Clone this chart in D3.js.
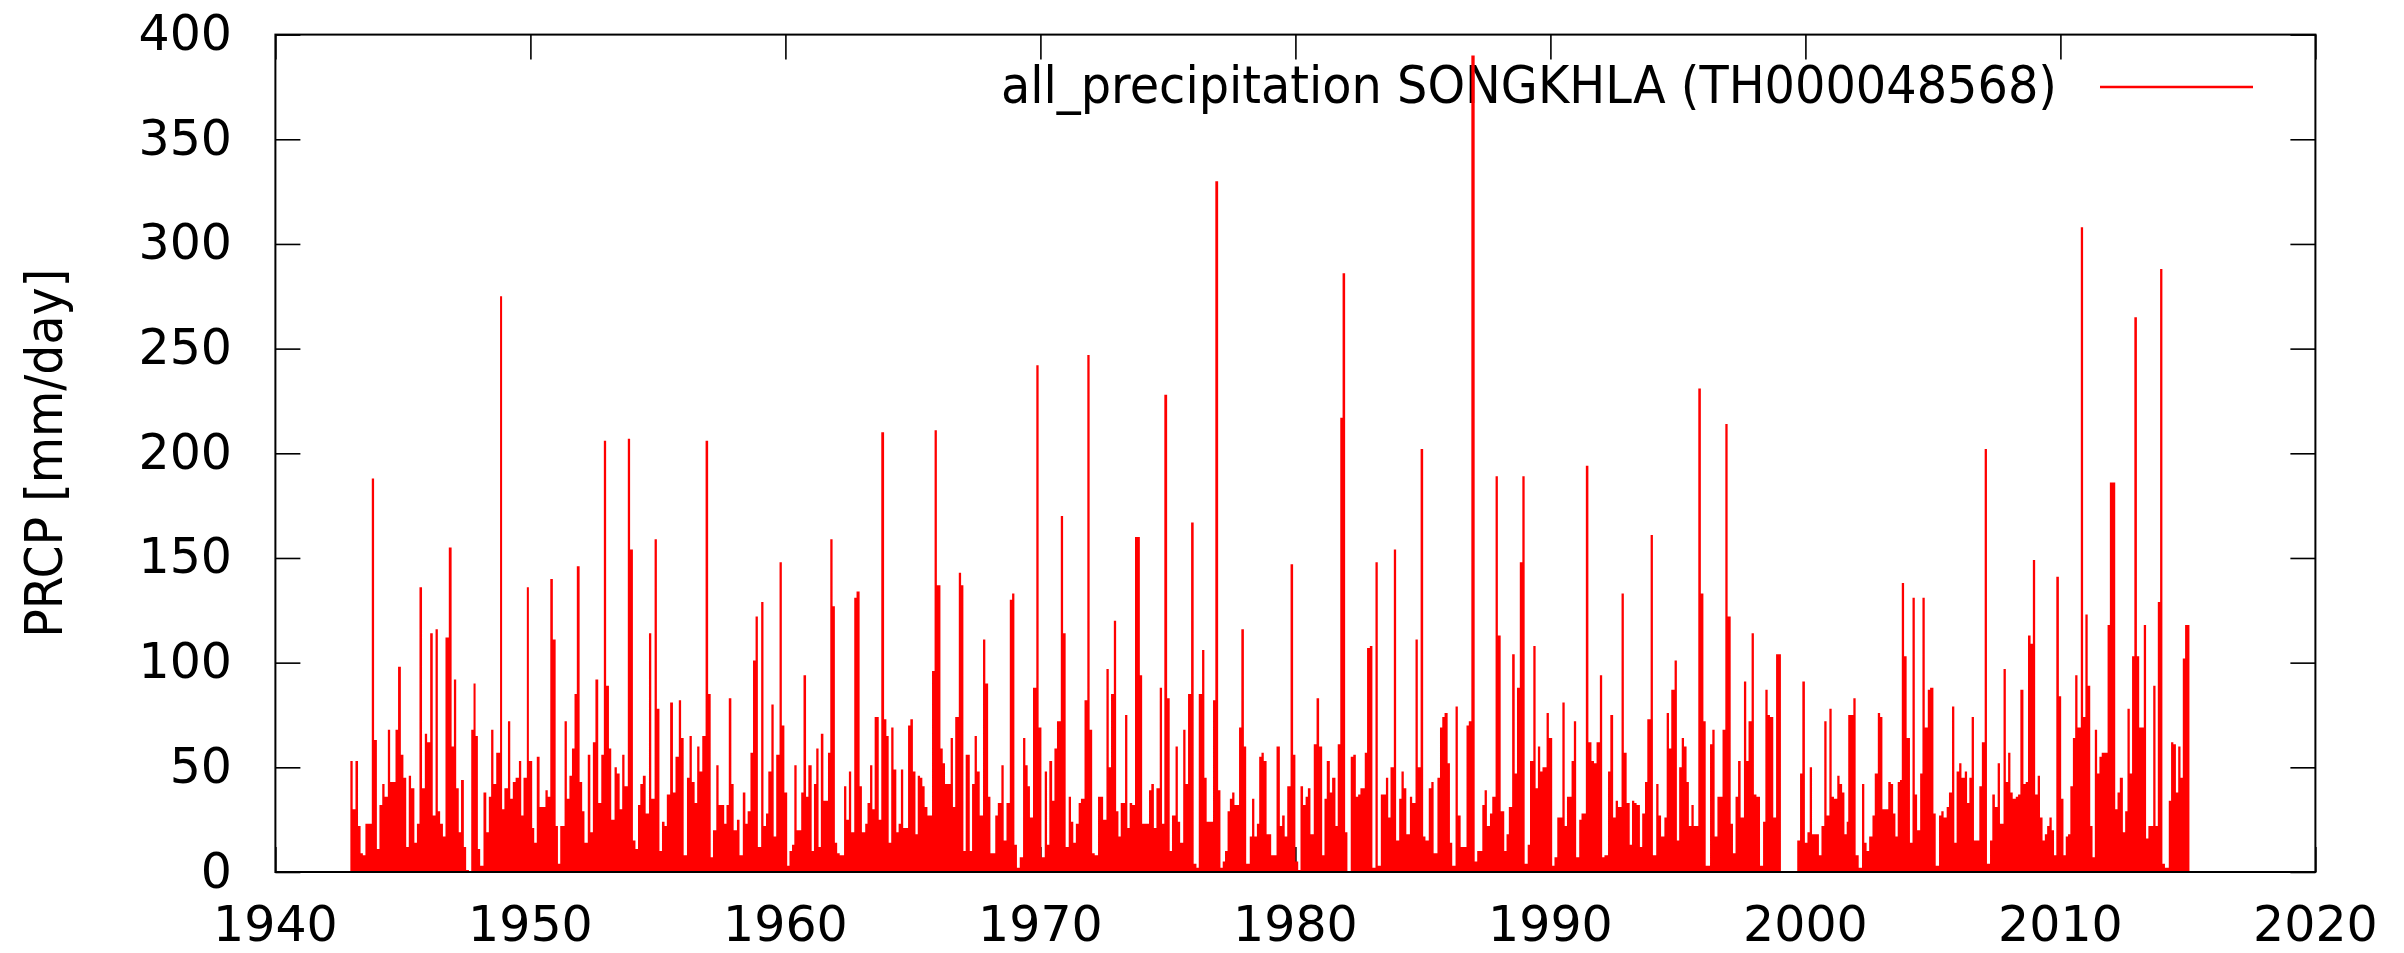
<!DOCTYPE html>
<html>
<head>
<meta charset="utf-8">
<script src="https://cdn.jsdelivr.net/npm/d3@7"></script>
<style>
  html, body { margin: 0; padding: 0; background: #fff; }
  svg { display: block; }
  text { font-family: "DejaVu Sans", sans-serif; fill: #000; }
</style>
</head>
<body>
<svg id="chart" width="2404" height="953"></svg>
<script>
// ---- data: [fractional year, daily precipitation mm/day] ----
const prcp1943to1955 = [[1942.94,53],[1943.03,30],[1943.14,53],[1943.24,22],[1943.34,9],[1943.43,8],[1943.53,23],[1943.78,188],[1943.87,63],[1943.98,11],[1944.08,32],[1944.19,42],[1944.28,36],[1944.41,68],[1944.50,43],[1944.71,68],[1944.81,98],[1944.92,56],[1945.02,45],[1945.13,12],[1945.23,46],[1945.32,40],[1945.45,14],[1945.55,23],[1945.65,136],[1945.75,40],[1945.86,66],[1945.95,62],[1946.07,114],[1946.17,27],[1946.28,116],[1946.37,29],[1946.46,23],[1946.57,17],[1946.67,112],[1946.80,155],[1946.91,60],[1947.00,92],[1947.09,40],[1947.19,19],[1947.28,44],[1947.39,12],[1947.48,1],[1947.59,0],[1947.68,68],[1947.77,90],[1947.85,65],[1947.94,11],[1948.03,3],[1948.16,38],[1948.27,19],[1948.37,36],[1948.46,68],[1948.55,42],[1948.66,57],[1948.81,275],[1948.89,30],[1948.98,40],[1949.12,72],[1949.21,35],[1949.31,43],[1949.42,45],[1949.55,53],[1949.64,27],[1949.73,45],[1949.86,136],[1949.94,53],[1950.07,21],[1950.15,14],[1950.25,55],[1950.36,31],[1950.59,39],[1950.68,36],[1950.78,140],[1950.88,111],[1950.99,22],[1951.08,4],[1951.17,22],[1951.34,72],[1951.43,35],[1951.53,46],[1951.63,59],[1951.73,85],[1951.82,146],[1951.93,43],[1952.03,29],[1952.12,14],[1952.25,56],[1952.35,19],[1952.45,62],[1952.55,92],[1952.66,33],[1952.78,56],[1952.88,206],[1952.97,89],[1953.08,59],[1953.17,25],[1953.30,50],[1953.39,47],[1953.50,30],[1953.60,56],[1953.69,41],[1953.82,207],[1953.91,154],[1954.02,15],[1954.12,11],[1954.22,32],[1954.31,42],[1954.41,46],[1954.52,28],[1954.65,114],[1954.74,35],[1954.87,159],[1954.96,78]];

const prcp1955to1967 = [[1955.06,10],[1955.16,24],[1955.26,22],[1955.35,37],[1955.48,81],[1955.59,38],[1955.69,55],[1955.82,82],[1955.91,64],[1956.01,8],[1956.14,45],[1956.24,65],[1956.33,43],[1956.44,33],[1956.54,60],[1956.63,48],[1956.74,65],[1956.87,206],[1956.97,85],[1957.07,7],[1957.16,20],[1957.29,51],[1957.38,32],[1957.60,23],[1957.69,32],[1957.78,83],[1957.88,42],[1957.97,20],[1958.10,25],[1958.20,8],[1958.33,38],[1958.43,23],[1958.52,29],[1958.63,57],[1958.73,101],[1958.83,122],[1958.92,12],[1959.05,129],[1959.14,22],[1959.24,28],[1959.33,48],[1959.45,80],[1959.54,17],[1959.64,56],[1959.77,148],[1959.86,70],[1959.96,38],[1960.07,3],[1960.16,10],[1960.26,13],[1960.35,51],[1960.44,20],[1960.62,38],[1960.71,94],[1960.81,36],[1960.90,51],[1961.03,10],[1961.12,42],[1961.21,59],[1961.30,12],[1961.39,66],[1961.49,34],[1961.67,57],[1961.76,159],[1961.85,127],[1961.94,14],[1962.03,9],[1962.13,8],[1962.30,41],[1962.39,25],[1962.49,48],[1962.58,19],[1962.70,131],[1962.79,134],[1962.91,41],[1963.00,19],[1963.13,23],[1963.22,33],[1963.32,51],[1963.41,30],[1963.50,74],[1963.66,25],[1963.76,210],[1963.87,73],[1963.96,65],[1964.05,14],[1964.15,69],[1964.24,49],[1964.35,19],[1964.44,23],[1964.53,49],[1964.62,21],[1964.81,70],[1964.90,73],[1965.00,48],[1965.10,18],[1965.19,46],[1965.28,45],[1965.37,41],[1965.46,31],[1965.57,27],[1965.75,96],[1965.85,211],[1965.94,137],[1966.08,59],[1966.17,52],[1966.26,42],[1966.48,64],[1966.57,31],[1966.66,74],[1966.80,143],[1966.89,137],[1966.98,10],[1967.07,56]];

const prcp1967to1979 = [[1967.23,10],[1967.32,42],[1967.42,65],[1967.51,48],[1967.62,27],[1967.75,111],[1967.84,90],[1967.95,36],[1968.04,9],[1968.23,27],[1968.33,33],[1968.47,51],[1968.56,15],[1968.67,33],[1968.80,130],[1968.89,133],[1968.98,13],[1969.08,2],[1969.19,7],[1969.32,64],[1969.41,51],[1969.50,41],[1969.59,26],[1969.71,88],[1969.84,242],[1969.93,69],[1970.04,7],[1970.17,48],[1970.26,13],[1970.35,53],[1970.46,34],[1970.55,59],[1970.65,72],[1970.80,170],[1970.89,114],[1970.99,12],[1971.11,36],[1971.20,24],[1971.29,14],[1971.39,23],[1971.50,33],[1971.59,35],[1971.73,82],[1971.84,247],[1971.93,68],[1972.03,9],[1972.13,8],[1972.26,36],[1972.46,25],[1972.59,97],[1972.68,50],[1972.77,85],[1972.88,120],[1972.97,29],[1973.06,17],[1973.15,33],[1973.32,75],[1973.41,21],[1973.50,33],[1973.60,32],[1973.71,160],[1973.80,160],[1973.90,94],[1973.99,23],[1974.26,39],[1974.35,42],[1974.45,21],[1974.55,40],[1974.68,88],[1974.77,23],[1974.86,228],[1974.97,83],[1975.07,10],[1975.16,27],[1975.30,60],[1975.39,24],[1975.48,14],[1975.60,68],[1975.69,42],[1975.79,85],[1975.91,167],[1976.01,4],[1976.12,2],[1976.21,85],[1976.34,106],[1976.43,45],[1976.52,24],[1976.77,82],[1976.86,330],[1976.97,39],[1977.06,2],[1977.15,5],[1977.24,10],[1977.34,29],[1977.43,35],[1977.52,38],[1977.61,32],[1977.79,69],[1977.88,116],[1977.98,60],[1978.07,4],[1978.21,17],[1978.30,35],[1978.39,17],[1978.49,23],[1978.58,55],[1978.67,57],[1978.76,53],[1978.87,18],[1979.05,8],[1979.26,60]];

const prcp1979to1991 = [[1979.39,22],[1979.48,27],[1979.58,17],[1979.68,41],[1979.81,147],[1979.91,56],[1980.00,5],[1980.11,1],[1980.20,41],[1980.30,32],[1980.40,36],[1980.49,40],[1980.59,18],[1980.72,61],[1980.83,83],[1980.93,60],[1981.05,8],[1981.14,35],[1981.23,53],[1981.35,38],[1981.44,45],[1981.57,22],[1981.66,61],[1981.76,217],[1981.85,286],[1981.95,19],[1982.04,0],[1982.17,55],[1982.27,56],[1982.37,36],[1982.46,37],[1982.55,40],[1982.72,57],[1982.81,107],[1982.92,108],[1983.02,2],[1983.14,148],[1983.23,3],[1983.35,37],[1983.55,45],[1983.64,26],[1983.73,50],[1983.86,154],[1983.95,15],[1984.07,35],[1984.16,48],[1984.25,40],[1984.35,18],[1984.49,36],[1984.58,33],[1984.71,111],[1984.80,50],[1984.91,202],[1985.01,17],[1985.10,15],[1985.23,40],[1985.33,43],[1985.42,9],[1985.57,45],[1985.67,69],[1985.76,74],[1985.85,76],[1985.97,52],[1986.06,14],[1986.15,3],[1986.28,79],[1986.37,27],[1986.48,12],[1986.71,70],[1986.80,72],[1986.90,390],[1987.03,5],[1987.13,10],[1987.33,32],[1987.42,39],[1987.51,22],[1987.63,28],[1987.72,36],[1987.85,189],[1987.94,113],[1988.05,29],[1988.19,10],[1988.28,18],[1988.37,31],[1988.50,104],[1988.60,47],[1988.69,88],[1988.80,148],[1988.90,189],[1988.99,4],[1989.11,13],[1989.20,53],[1989.33,108],[1989.42,40],[1989.51,60],[1989.60,48],[1989.69,50],[1989.85,76],[1989.94,64],[1990.07,3],[1990.16,7],[1990.27,26],[1990.47,81],[1990.56,22],[1990.65,36],[1990.83,53],[1990.92,72],[1991.01,7],[1991.13,25],[1991.22,28],[1991.39,194],[1991.49,62]];

const prcp1991to2003 = [[1991.61,53],[1991.71,52],[1991.81,62],[1991.94,94],[1992.03,7],[1992.12,8],[1992.26,48],[1992.35,75],[1992.46,26],[1992.56,34],[1992.65,31],[1992.79,133],[1992.88,57],[1992.99,33],[1993.11,13],[1993.20,34],[1993.29,33],[1993.38,32],[1993.51,12],[1993.60,28],[1993.71,43],[1993.80,73],[1993.93,161],[1994.02,8],[1994.15,42],[1994.24,27],[1994.34,17],[1994.47,26],[1994.56,76],[1994.65,59],[1994.74,87],[1994.87,101],[1994.96,15],[1995.05,50],[1995.15,64],[1995.24,60],[1995.34,43],[1995.43,22],[1995.53,32],[1995.62,22],[1995.80,231],[1995.90,133],[1996.00,72],[1996.09,3],[1996.26,61],[1996.35,68],[1996.44,17],[1996.55,36],[1996.75,68],[1996.86,214],[1996.95,122],[1997.07,23],[1997.16,9],[1997.26,36],[1997.36,53],[1997.46,26],[1997.59,91],[1997.68,53],[1997.77,72],[1997.89,114],[1997.98,37],[1998.08,36],[1998.22,3],[1998.34,24],[1998.43,87],[1998.52,75],[1998.61,74],[1998.74,26],[1998.85,104],[1998.95,104],[1999.04,0],[1999.68,15],[1999.79,47],[1999.88,91],[1999.98,14],[2000.08,19],[2000.17,50],[2000.26,18],[2000.53,8],[2000.63,22],[2000.74,72],[2000.83,27],[2000.94,78],[2001.03,36],[2001.12,35],[2001.25,46],[2001.34,42],[2001.44,38],[2001.53,18],[2001.62,24],[2001.68,75],[2001.78,75],[2001.88,83],[2001.97,8],[2002.09,2],[2002.22,42],[2002.31,14],[2002.40,10],[2002.50,17],[2002.63,27],[2002.72,47],[2002.84,76],[2002.93,74],[2003.02,30],[2003.25,43],[2003.35,42],[2003.44,28],[2003.53,17],[2003.62,43]];

const prcp2003to2015 = [[2003.71,44],[2003.78,138],[2003.87,103],[2003.97,64],[2004.10,14],[2004.20,131],[2004.29,37],[2004.38,20],[2004.50,47],[2004.59,131],[2004.68,69],[2004.80,87],[2004.89,88],[2005.02,28],[2005.11,3],[2005.24,27],[2005.33,29],[2005.42,26],[2005.54,31],[2005.63,38],[2005.75,79],[2005.84,14],[2005.93,48],[2006.03,52],[2006.12,45],[2006.25,48],[2006.34,33],[2006.43,45],[2006.52,74],[2006.61,15],[2006.82,41],[2006.92,62],[2007.03,202],[2007.12,4],[2007.24,15],[2007.33,37],[2007.43,31],[2007.54,52],[2007.63,23],[2007.77,97],[2007.86,43],[2007.95,57],[2008.04,38],[2008.13,35],[2008.25,36],[2008.34,37],[2008.43,87],[2008.55,42],[2008.64,43],[2008.73,113],[2008.83,109],[2008.92,149],[2009.01,37],[2009.11,46],[2009.20,26],[2009.30,15],[2009.39,18],[2009.48,22],[2009.57,26],[2009.66,20],[2009.75,8],[2009.84,141],[2009.94,84],[2010.03,35],[2010.12,8],[2010.21,17],[2010.30,18],[2010.39,41],[2010.49,64],[2010.58,94],[2010.67,69],[2010.80,308],[2010.89,74],[2010.98,123],[2011.07,89],[2011.17,22],[2011.26,7],[2011.35,68],[2011.44,47],[2011.53,55],[2011.62,57],[2011.85,118],[2011.94,186],[2012.04,186],[2012.15,30],[2012.24,38],[2012.33,45],[2012.45,19],[2012.54,29],[2012.63,78],[2012.72,47],[2012.81,103],[2012.90,265],[2013.00,103],[2013.09,69],[2013.27,118],[2013.36,16],[2013.45,22],[2013.64,89],[2013.73,22],[2013.82,129],[2013.91,288],[2014.00,4],[2014.10,2],[2014.25,34],[2014.34,62],[2014.43,61],[2014.53,38],[2014.62,60],[2014.71,45],[2014.80,102],[2014.89,118],[2015.06,0]];

const xTicks = [1940, 1950, 1960, 1970, 1980, 1990, 2000, 2010, 2020];
const yTicks = [0, 50, 100, 150, 200, 250, 300, 350, 400];
const legendLabel = "all_precipitation SONGKHLA (TH000048568)";
const yAxisLabel = "PRCP [mm/day]";

// ---- layout ----
const W = 2404, H = 953;
const L = 275.4, R = 2315.4, T = 34.6, B = 872;
const red = "#ff0000";

const svg = d3.select("#chart");
svg.append("rect").attr("width", W).attr("height", H).attr("fill", "#fff");

const x = d3.scaleLinear().domain([1940, 2020]).range([L, R]);
const y = d3.scaleLinear().domain([0, 400]).range([B, T]);

const tickLen = 25;

// inward mirrored ticks using d3 axes
const axBottom = svg.append("g").attr("transform", `translate(0,${B})`)
  .call(d3.axisTop(x).tickValues(xTicks).tickSize(tickLen).tickFormat(""));
const axTop = svg.append("g").attr("transform", `translate(0,${T})`)
  .call(d3.axisBottom(x).tickValues(xTicks).tickSize(tickLen).tickFormat(""));
const axLeft = svg.append("g").attr("transform", `translate(${L},0)`)
  .call(d3.axisRight(y).tickValues(yTicks).tickSize(tickLen).tickFormat(""));
const axRight = svg.append("g").attr("transform", `translate(${R},0)`)
  .call(d3.axisLeft(y).tickValues(yTicks).tickSize(tickLen).tickFormat(""));
[axBottom, axTop, axLeft, axRight].forEach(g => {
  g.select(".domain").remove();
  g.selectAll("line").attr("stroke", "#000").attr("stroke-width", 1.6);
});

// tick labels
svg.append("g").selectAll("text").data(xTicks).join("text")
  .attr("x", d => x(d)).attr("y", 941)
  .attr("text-anchor", "middle").attr("font-size", 49)
  .text(d => d);
svg.append("g").selectAll("text").data(yTicks).join("text")
  .attr("x", 232).attr("y", d => y(d) + 15.5)
  .attr("text-anchor", "end").attr("font-size", 49)
  .text(d => d);

// y label
svg.append("text")
  .attr("transform", `translate(62,${(T + B) / 2}) rotate(-90)`)
  .attr("text-anchor", "middle").attr("font-size", 52)
  .attr("textLength", 369).attr("lengthAdjust", "spacingAndGlyphs")
  .text(yAxisLabel);

// legend
svg.append("text")
  .attr("x", 2057).attr("y", 103)
  .attr("text-anchor", "end").attr("font-size", 51)
  .attr("textLength", 1056).attr("lengthAdjust", "spacingAndGlyphs")
  .text(legendLabel);
svg.append("line")
  .attr("x1", 2100).attr("x2", 2253).attr("y1", 87).attr("y2", 87)
  .attr("stroke", red).attr("stroke-width", 2.5);

// data (impulses aggregated into a step skyline)
const series = [].concat(prcp1943to1955, prcp1955to1967, prcp1967to1979,
                         prcp1979to1991, prcp1991to2003, prcp2003to2015)
  .sort((a, b) => a[0] - b[0]);
const area = d3.area()
  .x(d => x(d[0]))
  .y0(y(0))
  .y1(d => y(d[1]))
  .curve(d3.curveStepAfter);
svg.append("path").datum(series)
  .attr("d", area)
  .attr("fill", red)
  .attr("stroke", "none");

// frame on top
svg.append("rect")
  .attr("x", L).attr("y", T).attr("width", R - L).attr("height", B - T)
  .attr("fill", "none").attr("stroke", "#000").attr("stroke-width", 2);
</script>
</body>
</html>
